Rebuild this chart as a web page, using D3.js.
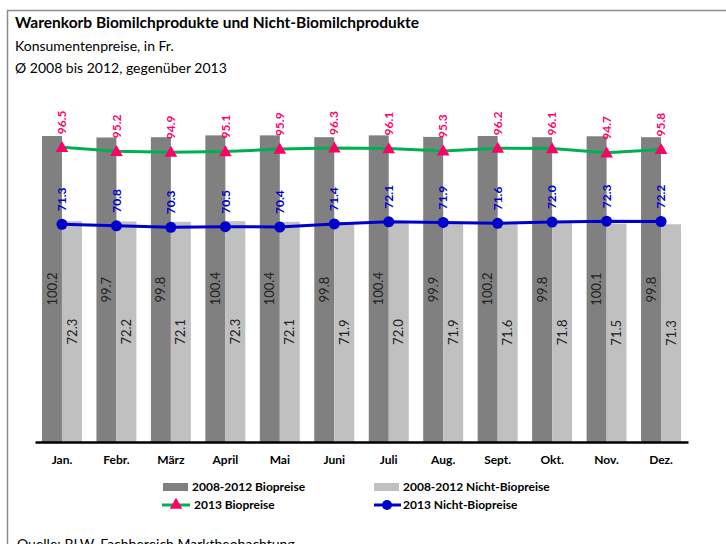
<!DOCTYPE html>
<html>
<head>
<meta charset="utf-8">
<script src="https://cdn.jsdelivr.net/npm/d3@7"></script>
<style>
  body { margin: 0; background: #fff; }
  svg { display: block; font-family: Lato, "Open Sans", sans-serif; }
</style>
</head>
<body>
<script>
var months = ['Jan.', 'Febr.', 'März', 'April', 'Mai', 'Juni', 'Juli', 'Aug.', 'Sept.', 'Okt.', 'Nov.', 'Dez.'];
var bio0812 = [100.2, 99.7, 99.8, 100.4, 100.4, 99.8, 100.4, 99.9, 100.2, 99.8, 100.1, 99.8];
var nonBio0812 = [72.3, 72.2, 72.1, 72.3, 72.1, 71.9, 72.0, 71.9, 71.6, 71.8, 71.5, 71.3];
var bio2013 = [96.5, 95.2, 94.9, 95.1, 95.9, 96.3, 96.1, 95.3, 96.2, 96.1, 94.7, 95.8];
var nonBio2013 = [71.3, 70.8, 70.3, 70.5, 70.4, 71.4, 72.1, 71.9, 71.6, 72.0, 72.3, 72.2];

var w = 726, h = 544;
var svg = d3.select('body').append('svg').attr('width', w).attr('height', h);

// frame
svg.append('path')
  .attr('d', 'M7.5,544 V10.5 H726')
  .attr('fill', 'none')
  .attr('stroke', '#8c8c8c')
  .attr('stroke-width', 1.5);

// titles
svg.append('text').attr('x', 15).attr('y', 28)
  .attr('font-size', 15.5).attr('font-weight', 'bold').attr('fill', '#000')
  .text('Warenkorb Biomilchprodukte und Nicht-Biomilchprodukte');
svg.append('text').attr('x', 15).attr('y', 51)
  .attr('font-size', 14).attr('fill', '#000')
  .text('Konsumentenpreise, in Fr.');
svg.append('text').attr('x', 15).attr('y', 73)
  .attr('font-size', 14).attr('fill', '#000')
  .text('Ø 2008 bis 2012, gegenüber 2013');

var x = d3.scaleBand()
  .domain(months)
  .range([35, 688])
  .paddingInner(0.266)
  .paddingOuter(0.128);

var y = d3.scaleLinear()
  .domain([0, 120])
  .range([442, 75.5]);

var bw = x.bandwidth() / 2;
var g = svg.append('g');

// bars
g.selectAll('.dark').data(months).join('rect')
  .attr('x', (d) => x(d))
  .attr('y', (d, i) => y(bio0812[i]))
  .attr('width', bw)
  .attr('height', (d, i) => y(0) - y(bio0812[i]))
  .attr('fill', '#808080');

g.selectAll('.light').data(months).join('rect')
  .attr('x', (d) => x(d) + bw)
  .attr('y', (d, i) => y(nonBio0812[i]))
  .attr('width', bw)
  .attr('height', (d, i) => y(0) - y(nonBio0812[i]))
  .attr('fill', '#c0c0c0');

// bar labels
var barLabel = (vals, off) => {
  g.append('g').selectAll('text').data(months).join('text')
    .attr('transform', (d, i) => {
      var cx = x(d) + off + bw / 2;
      var cy = (y(vals[i]) + y(0)) / 2;
      return 'translate(' + cx + ',' + cy + ') rotate(-90)';
    })
    .attr('text-anchor', 'middle')
    .attr('dy', '0.35em')
    .attr('font-size', 13)
    .attr('fill', '#222')
    .text((d, i) => vals[i].toFixed(1));
};
barLabel(bio0812, 0);
barLabel(nonBio0812, bw);

// axis
var xAxis = svg.append('g')
  .attr('transform', 'translate(0,' + y(0) + ')')
  .call(d3.axisBottom(x).tickSize(0).tickPadding(13));
xAxis.select('.domain').attr('stroke', '#000').attr('stroke-width', 2.5);
xAxis.selectAll('text')
  .attr('font-size', 12).attr('font-weight', 'bold')
  .attr('font-family', 'Lato, "Open Sans", sans-serif').attr('fill', '#000');

var cxOf = (d) => x(d) + bw;

// lines
var lineGen = (vals) => d3.line()
  .x((d) => cxOf(d))
  .y((d, i) => y(vals[i]));

svg.append('path').datum(months)
  .attr('d', lineGen(bio2013))
  .attr('fill', 'none').attr('stroke', '#00b050').attr('stroke-width', 3);

svg.append('path').datum(months)
  .attr('d', lineGen(nonBio2013))
  .attr('fill', 'none').attr('stroke', '#0000cc').attr('stroke-width', 3);

var tri = d3.symbol().type(d3.symbolTriangle).size(70);
svg.append('g').selectAll('path').data(months).join('path')
  .attr('transform', (d, i) => 'translate(' + cxOf(d) + ',' + (y(bio2013[i]) + 1) + ')')
  .attr('d', tri)
  .attr('fill', '#ff0066');

svg.append('g').selectAll('circle').data(months).join('circle')
  .attr('cx', (d) => cxOf(d))
  .attr('cy', (d, i) => y(nonBio2013[i]))
  .attr('r', 5.5)
  .attr('fill', '#0000cc');

// line labels
var lineLabel = (vals, color) => {
  svg.append('g').selectAll('text').data(months).join('text')
    .attr('transform', (d, i) => 'translate(' + cxOf(d) + ',' + (y(vals[i]) - 13) + ') rotate(-90)')
    .attr('text-anchor', 'start')
    .attr('dy', '0.35em')
    .attr('font-size', 12)
    .attr('font-weight', 'bold')
    .attr('fill', color)
    .text((d, i) => vals[i].toFixed(1));
};
lineLabel(bio2013, '#ff0066');
lineLabel(nonBio2013, '#0000cc');

// legend
var leg = svg.append('g').attr('font-size', 12).attr('font-weight', 'bold');
leg.append('rect').attr('x', 163).attr('y', 483).attr('width', 25).attr('height', 8).attr('fill', '#808080');
leg.append('text').attr('x', 192).attr('y', 491).text('2008-2012 Biopreise');
leg.append('rect').attr('x', 374).attr('y', 483).attr('width', 25).attr('height', 8).attr('fill', '#c0c0c0');
leg.append('text').attr('x', 403).attr('y', 491).text('2008-2012 Nicht-Biopreise');

leg.append('line').attr('x1', 162).attr('x2', 190).attr('y1', 505).attr('y2', 505)
  .attr('stroke', '#00b050').attr('stroke-width', 3);
leg.append('path').attr('transform', 'translate(176,505)').attr('d', tri).attr('fill', '#ff0066');
leg.append('text').attr('x', 194).attr('y', 509).text('2013 Biopreise');
leg.append('line').attr('x1', 374).attr('x2', 401).attr('y1', 505).attr('y2', 505)
  .attr('stroke', '#0000cc').attr('stroke-width', 3);
leg.append('circle').attr('cx', 387).attr('cy', 505).attr('r', 5).attr('fill', '#0000cc');
leg.append('text').attr('x', 403).attr('y', 509).text('2013 Nicht-Biopreise');

// source (cut at the bottom edge, as in the reference)
svg.append('text').attr('x', 17).attr('y', 549)
  .attr('font-size', 14).attr('fill', '#000')
  .text('Quelle: BLW, Fachbereich Marktbeobachtung');
</script>
</body>
</html>
